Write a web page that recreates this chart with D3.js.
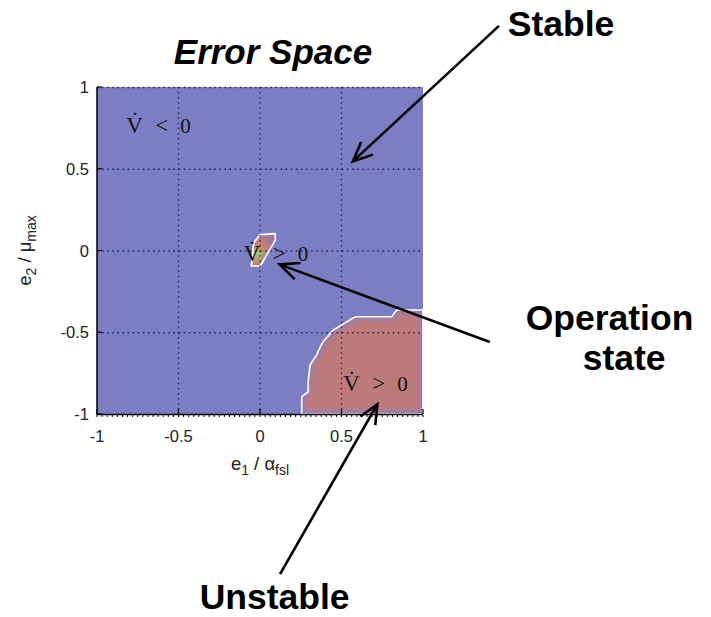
<!DOCTYPE html>
<html><head><meta charset="utf-8">
<script src="https://cdn.jsdelivr.net/npm/d3@7"></script>
<style>body{margin:0;background:#fff}svg{display:block}</style>
</head><body>
<svg id="c" width="711" height="617"></svg>
<script>
// ---- data ----
const xTicks = [-1, -0.5, 0, 0.5, 1];
const yTicks = [-1, -0.5, 0, 0.5, 1];
const xTickLabels = ["-1", "-0.5", "0", "0.5", "1"];
const yTickLabels = ["-1", "-0.5", "0", "0.5", "1"];
// region where Vdot > 0 (unstable, bottom right)
const unstableRegion = [[0.256,-1],[0.256,-0.894],[0.296,-0.864],[0.296,-0.80],[0.307,-0.70],[0.33,-0.665],[0.348,-0.639],[0.36,-0.61],[0.387,-0.558],[0.42,-0.52],[0.45,-0.486],[0.501,-0.456],[0.573,-0.411],[0.593,-0.405],[0.808,-0.405],[0.839,-0.364],[1,-0.364],[1,-1]];
// small region around operation state
const operationRegion = [[-0.053,-0.095],[-0.039,0.046],[0,0.097],[0.094,0.103],[0.094,0.064],[0.012,-0.078],[0,-0.095]];
const operationPoint = [-0.02,-0.02];
// in-plot labels: [x, y, relation]
const vLabels = [[-0.82, 0.72, "<"], [-0.1, -0.065, ">"], [0.51, -0.86, ">"]];
// callouts: text, text anchor position (data coords), arrow from -> to (data coords)
const callouts = [
  {lines:["Stable"], at:[1.52, 1.31], dx2:0, from:[1.466, 1.374], to:[0.57, 0.545]},
  {lines:["Operation","state"], at:[1.63, -0.485], dx2:57, from:[1.41, -0.56], to:[0.12, -0.085]},
  {lines:["Unstable"], at:[-0.37, -2.193], dx2:0, from:[0.123, -1.979], to:[0.72, -0.94]}
];

// ---- drawing ----
const svg = d3.select("#c");
const x = d3.scaleLinear().domain([-1, 1]).range([97, 423]);
const y = d3.scaleLinear().domain([-1, 1]).range([414, 87]);
const blue = "rgb(124,126,196)", red = "rgb(190,123,123)";
const defs = svg.append("defs");
defs.append("clipPath").attr("id","plotclip").append("rect")
  .attr("x", x(-1)).attr("y", y(1)).attr("width", x(1)-x(-1)).attr("height", y(-1)-y(1));
const line = d3.line().x(d => x(d[0])).y(d => y(d[1]));
defs.append("clipPath").attr("id","uclip").append("path").attr("d", line(unstableRegion) + "Z");
defs.append("filter").attr("id","blur").attr("x","-20%").attr("y","-20%").attr("width","140%").attr("height","140%")
  .append("feGaussianBlur").attr("stdDeviation", 2.2);
const rg = defs.append("radialGradient").attr("id","opg").attr("gradientUnits","userSpaceOnUse")
  .attr("cx", x(operationPoint[0])).attr("cy", y(operationPoint[1])).attr("r", 17);
rg.append("stop").attr("offset","0%").attr("stop-color","rgb(150,215,120)");
rg.append("stop").attr("offset","35%").attr("stop-color","rgb(185,150,110)");
rg.append("stop").attr("offset","70%").attr("stop-color","rgb(195,125,120)");
rg.append("stop").attr("offset","100%").attr("stop-color","rgb(165,120,155)");

const plot = svg.append("g").attr("clip-path","url(#plotclip)");
plot.append("rect").attr("x", x(-1)).attr("y", y(1)).attr("width", x(1)-x(-1)).attr("height", y(-1)-y(1)).attr("fill", blue);
plot.append("path").attr("d", line(unstableRegion)+"Z").attr("fill", red);
plot.append("g").attr("clip-path","url(#uclip)").append("path").attr("d", line(unstableRegion)+"Z")
  .attr("fill","none").attr("stroke", "rgb(150,125,185)").attr("stroke-width", 7).attr("filter","url(#blur)");
plot.append("path").attr("d", line(unstableRegion)+"Z").attr("fill","none").attr("stroke","#fff").attr("stroke-width",1.6).attr("stroke-linejoin","round");
plot.append("path").attr("d", line(operationRegion)+"Z").attr("fill","url(#opg)").attr("stroke","#fff").attr("stroke-width",1.6).attr("stroke-linejoin","round");

// grid
const grid = svg.append("g").attr("stroke","#10103a").attr("stroke-opacity",0.8).attr("stroke-width",1.3).attr("stroke-dasharray","1.5,3.6");
grid.selectAll(".gx").data(xTicks.filter(t => t > -1 && t < 1)).join("line")
  .attr("x1", d => x(d)).attr("x2", d => x(d)).attr("y1", y(1)).attr("y2", y(-1));
grid.selectAll(".gy").data(yTicks.filter(t => t > -1)).join("line")
  .attr("y1", d => y(d)+0.5).attr("y2", d => y(d)+0.5).attr("x1", x(-1)).attr("x2", x(1));

// V-dot labels
const vl = svg.append("g").attr("font-family","'Liberation Serif', 'DejaVu Serif', serif").attr("font-size", 23).attr("fill","#111");
vLabels.forEach(([a, b, rel]) => {
  const t = vl.append("text").attr("x", x(a)).attr("y", y(b));
  t.append("tspan").text("V\u0307");
  t.append("tspan").attr("x", x(a)+29).text(rel);
  t.append("tspan").attr("x", x(a)+54).attr("font-size", 21).text("0");
});

// axes
const ax = svg.append("g").attr("stroke","#000");
ax.append("line").attr("x1", x(-1)).attr("x2", x(-1)).attr("y1", y(1)).attr("y2", y(-1)+1).attr("stroke-width",1.5);
ax.append("line").attr("x1", x(-1)).attr("x2", x(1)).attr("y1", y(-1)+0.5).attr("y2", y(-1)+0.5).attr("stroke-width",1.5);
// minor ticks on bottom
ax.selectAll(".mt").data(d3.range(0, 65).map(i => -1 + i/32)).join("line")
  .attr("x1", d => x(d)).attr("x2", d => x(d)).attr("y1", y(-1)+1).attr("y2", y(-1)+3).attr("stroke-width",1);
ax.selectAll(".xt").data(xTicks).join("line")
  .attr("x1", d => x(d)).attr("x2", d => x(d)).attr("y1", y(-1)).attr("y2", y(-1)-5).attr("stroke-width",1.2);
ax.selectAll(".yt").data(yTicks).join("line")
  .attr("y1", d => y(d)).attr("y2", d => y(d)).attr("x1", x(-1)).attr("x2", x(-1)+5).attr("stroke-width",1.2);

const sans = "'Liberation Sans', Arial, sans-serif";
const tl = svg.append("g").attr("font-family", sans).attr("font-size", 16.5).attr("fill","#222");
tl.selectAll(".xl").data(xTicks).join("text").attr("x", d => x(d)).attr("y", 442).attr("text-anchor","middle").text((d,i) => xTickLabels[i]);
tl.selectAll(".yl").data(yTicks).join("text").attr("x", x(-1)-8).attr("y", d => y(d)+6).attr("text-anchor","end").text((d,i) => yTickLabels[i]);

// axis labels
const xl = tl.append("text").attr("x", x(0)).attr("y", 470).attr("text-anchor","middle").attr("font-size", 18.5);
xl.append("tspan").text("e");
xl.append("tspan").attr("font-size",14).attr("dy",5).text("1");
xl.append("tspan").attr("dy",-5).text(" / \u03b1");
xl.append("tspan").attr("font-size",14).attr("dy",5).text("fsl");
const yl = tl.append("text").attr("transform", `translate(31,${y(0)}) rotate(-90)`).attr("text-anchor","middle").attr("font-size", 18.5);
yl.append("tspan").text("e");
yl.append("tspan").attr("font-size",14).attr("dy",5).text("2");
yl.append("tspan").attr("dy",-5).text(" / \u03bc");
yl.append("tspan").attr("font-size",14).attr("dy",5).text("max");

// title
svg.append("text").attr("x", 273).attr("y", 64).attr("text-anchor","middle")
  .attr("font-family", sans).attr("font-weight","bold").attr("font-style","italic").attr("font-size", 35).attr("fill","#000").text("Error Space");

// callouts
const cg = svg.append("g");
callouts.forEach(c => {
  const t = cg.append("text").attr("x", x(c.at[0])).attr("y", y(c.at[1]))
    .attr("font-family", sans).attr("font-weight","bold").attr("font-size", 35.5).attr("fill","#000");
  c.lines.forEach((s, i) => t.append("tspan").attr("x", x(c.at[0]) + (i ? c.dx2 : 0)).attr("dy", i ? 40 : 0).text(s));
  const x1 = x(c.from[0]), y1 = y(c.from[1]), x2 = x(c.to[0]), y2 = y(c.to[1]);
  cg.append("line").attr("x1", x1).attr("y1", y1).attr("x2", x2).attr("y2", y2).attr("stroke","#000").attr("stroke-width",2.6);
  const ang = Math.atan2(y2 - y1, x2 - x1), L = 21, w = 0.42;
  const p = d3.path();
  p.moveTo(x2 - L*Math.cos(ang - w), y2 - L*Math.sin(ang - w));
  p.lineTo(x2, y2);
  p.lineTo(x2 - L*Math.cos(ang + w), y2 - L*Math.sin(ang + w));
  cg.append("path").attr("d", p.toString()).attr("fill","none").attr("stroke","#000").attr("stroke-width",2.6).attr("stroke-linejoin","miter");
});
</script>
</body></html>
